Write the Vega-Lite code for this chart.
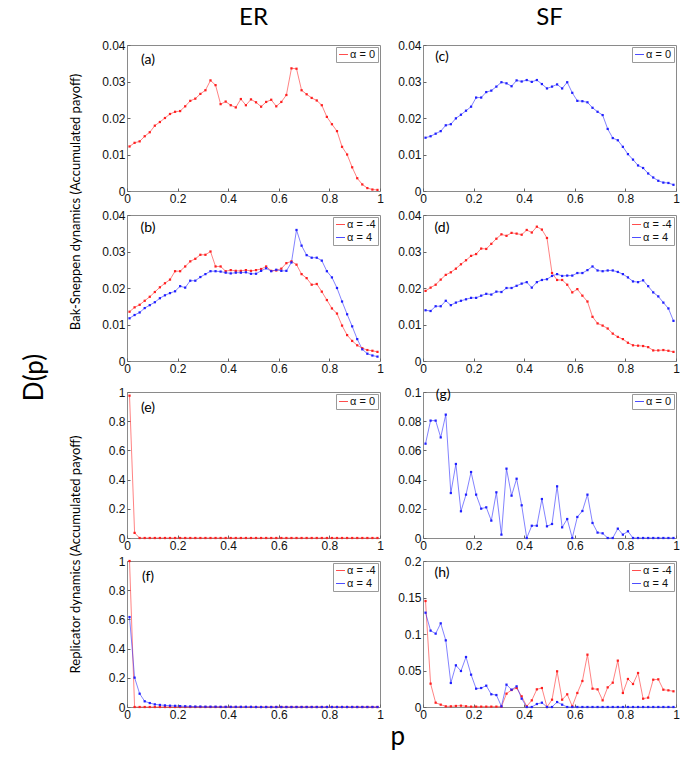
{
"$schema": "https://vega.github.io/schema/vega-lite/v6.json",
"background": "white",
"padding": {"left": 21, "top": 5, "right": 4, "bottom": 4},
"config": {
 "view": {"stroke": "#8a8a8a", "strokeWidth": 1},
 "axis": {"grid": false, "domain": false, "tickSize": -3, "tickColor": "#666", "tickCount": 12, "labelFont": "Liberation Sans", "labelFontSize": 12, "labelColor": "#111", "labelPadding": 5, "labelFlush": false, "labelOverlap": false, "labelBound": false},
 "axisY": {"minExtent": 27},
 "legend": {"orient": "top-right", "offset": 2, "padding": 2, "fillColor": "white", "strokeColor": "#9a9a9a", "labelFont": "Liberation Sans", "labelFontSize": 11, "labelColor": "#111", "symbolStrokeWidth": 0.8, "rowPadding": 1, "symbolSize": 80, "labelOffset": 1, "cornerRadius": 0},
 "title": {"font": "Lato", "fontWeight": "normal", "color": "#000", "anchor": "middle"},
 "text": {"font": "Lato"}
},
"datasets": {
"a": [{"p":0.01,"D":0.0122,"s":"α = 0"},{"p":0.03,"D":0.0132,"s":"α = 0"},{"p":0.05,"D":0.0136,"s":"α = 0"},{"p":0.07,"D":0.015,"s":"α = 0"},{"p":0.09,"D":0.0161,"s":"α = 0"},{"p":0.11,"D":0.0179,"s":"α = 0"},{"p":0.13,"D":0.0189,"s":"α = 0"},{"p":0.15,"D":0.02,"s":"α = 0"},{"p":0.17,"D":0.0211,"s":"α = 0"},{"p":0.19,"D":0.0217,"s":"α = 0"},{"p":0.21,"D":0.0219,"s":"α = 0"},{"p":0.23,"D":0.0232,"s":"α = 0"},{"p":0.25,"D":0.0247,"s":"α = 0"},{"p":0.27,"D":0.0253,"s":"α = 0"},{"p":0.29,"D":0.0266,"s":"α = 0"},{"p":0.31,"D":0.0276,"s":"α = 0"},{"p":0.33,"D":0.0303,"s":"α = 0"},{"p":0.35,"D":0.029,"s":"α = 0"},{"p":0.37,"D":0.0238,"s":"α = 0"},{"p":0.39,"D":0.0245,"s":"α = 0"},{"p":0.41,"D":0.0235,"s":"α = 0"},{"p":0.43,"D":0.0229,"s":"α = 0"},{"p":0.45,"D":0.0252,"s":"α = 0"},{"p":0.47,"D":0.0235,"s":"α = 0"},{"p":0.49,"D":0.0251,"s":"α = 0"},{"p":0.51,"D":0.0243,"s":"α = 0"},{"p":0.53,"D":0.0231,"s":"α = 0"},{"p":0.55,"D":0.0244,"s":"α = 0"},{"p":0.57,"D":0.025,"s":"α = 0"},{"p":0.59,"D":0.0232,"s":"α = 0"},{"p":0.61,"D":0.0244,"s":"α = 0"},{"p":0.63,"D":0.0263,"s":"α = 0"},{"p":0.65,"D":0.0336,"s":"α = 0"},{"p":0.67,"D":0.0335,"s":"α = 0"},{"p":0.69,"D":0.0276,"s":"α = 0"},{"p":0.71,"D":0.0265,"s":"α = 0"},{"p":0.73,"D":0.0255,"s":"α = 0"},{"p":0.75,"D":0.0248,"s":"α = 0"},{"p":0.77,"D":0.0235,"s":"α = 0"},{"p":0.79,"D":0.0203,"s":"α = 0"},{"p":0.81,"D":0.0183,"s":"α = 0"},{"p":0.83,"D":0.0164,"s":"α = 0"},{"p":0.85,"D":0.0121,"s":"α = 0"},{"p":0.87,"D":0.01,"s":"α = 0"},{"p":0.89,"D":0.0065,"s":"α = 0"},{"p":0.91,"D":0.0035,"s":"α = 0"},{"p":0.93,"D":0.0018,"s":"α = 0"},{"p":0.95,"D":0.0008,"s":"α = 0"},{"p":0.97,"D":0.0004,"s":"α = 0"},{"p":0.99,"D":0.0003,"s":"α = 0"}],
"c": [{"p":0.01,"D":0.0146,"s":"α = 0"},{"p":0.03,"D":0.015,"s":"α = 0"},{"p":0.05,"D":0.0157,"s":"α = 0"},{"p":0.07,"D":0.0164,"s":"α = 0"},{"p":0.09,"D":0.018,"s":"α = 0"},{"p":0.11,"D":0.0183,"s":"α = 0"},{"p":0.13,"D":0.0199,"s":"α = 0"},{"p":0.15,"D":0.0209,"s":"α = 0"},{"p":0.17,"D":0.022,"s":"α = 0"},{"p":0.19,"D":0.0231,"s":"α = 0"},{"p":0.21,"D":0.0256,"s":"α = 0"},{"p":0.23,"D":0.0256,"s":"α = 0"},{"p":0.25,"D":0.0271,"s":"α = 0"},{"p":0.27,"D":0.0275,"s":"α = 0"},{"p":0.29,"D":0.0286,"s":"α = 0"},{"p":0.31,"D":0.0298,"s":"α = 0"},{"p":0.33,"D":0.0295,"s":"α = 0"},{"p":0.35,"D":0.0287,"s":"α = 0"},{"p":0.37,"D":0.0303,"s":"α = 0"},{"p":0.39,"D":0.03,"s":"α = 0"},{"p":0.41,"D":0.0304,"s":"α = 0"},{"p":0.43,"D":0.0299,"s":"α = 0"},{"p":0.45,"D":0.0304,"s":"α = 0"},{"p":0.47,"D":0.0293,"s":"α = 0"},{"p":0.49,"D":0.0281,"s":"α = 0"},{"p":0.51,"D":0.0286,"s":"α = 0"},{"p":0.53,"D":0.0292,"s":"α = 0"},{"p":0.55,"D":0.0281,"s":"α = 0"},{"p":0.57,"D":0.0298,"s":"α = 0"},{"p":0.59,"D":0.0269,"s":"α = 0"},{"p":0.61,"D":0.0247,"s":"α = 0"},{"p":0.63,"D":0.0246,"s":"α = 0"},{"p":0.65,"D":0.0243,"s":"α = 0"},{"p":0.67,"D":0.0228,"s":"α = 0"},{"p":0.69,"D":0.0217,"s":"α = 0"},{"p":0.71,"D":0.0208,"s":"α = 0"},{"p":0.73,"D":0.017,"s":"α = 0"},{"p":0.75,"D":0.0145,"s":"α = 0"},{"p":0.77,"D":0.0139,"s":"α = 0"},{"p":0.79,"D":0.0121,"s":"α = 0"},{"p":0.81,"D":0.0101,"s":"α = 0"},{"p":0.83,"D":0.0086,"s":"α = 0"},{"p":0.85,"D":0.007,"s":"α = 0"},{"p":0.87,"D":0.0063,"s":"α = 0"},{"p":0.89,"D":0.0048,"s":"α = 0"},{"p":0.91,"D":0.0037,"s":"α = 0"},{"p":0.93,"D":0.0028,"s":"α = 0"},{"p":0.95,"D":0.0023,"s":"α = 0"},{"p":0.97,"D":0.0022,"s":"α = 0"},{"p":0.99,"D":0.0017,"s":"α = 0"}],
"b": [{"p":0.01,"D":0.0135,"s":"α = -4"},{"p":0.03,"D":0.0147,"s":"α = -4"},{"p":0.05,"D":0.0154,"s":"α = -4"},{"p":0.07,"D":0.0165,"s":"α = -4"},{"p":0.09,"D":0.0176,"s":"α = -4"},{"p":0.11,"D":0.0189,"s":"α = -4"},{"p":0.13,"D":0.0202,"s":"α = -4"},{"p":0.15,"D":0.0213,"s":"α = -4"},{"p":0.17,"D":0.0223,"s":"α = -4"},{"p":0.19,"D":0.0246,"s":"α = -4"},{"p":0.21,"D":0.0246,"s":"α = -4"},{"p":0.23,"D":0.0259,"s":"α = -4"},{"p":0.25,"D":0.0273,"s":"α = -4"},{"p":0.27,"D":0.028,"s":"α = -4"},{"p":0.29,"D":0.0291,"s":"α = -4"},{"p":0.31,"D":0.0291,"s":"α = -4"},{"p":0.33,"D":0.03,"s":"α = -4"},{"p":0.35,"D":0.0259,"s":"α = -4"},{"p":0.37,"D":0.0259,"s":"α = -4"},{"p":0.39,"D":0.0246,"s":"α = -4"},{"p":0.41,"D":0.0249,"s":"α = -4"},{"p":0.43,"D":0.0247,"s":"α = -4"},{"p":0.45,"D":0.0247,"s":"α = -4"},{"p":0.47,"D":0.0249,"s":"α = -4"},{"p":0.49,"D":0.0247,"s":"α = -4"},{"p":0.51,"D":0.0249,"s":"α = -4"},{"p":0.53,"D":0.0252,"s":"α = -4"},{"p":0.55,"D":0.0259,"s":"α = -4"},{"p":0.57,"D":0.0247,"s":"α = -4"},{"p":0.59,"D":0.0248,"s":"α = -4"},{"p":0.61,"D":0.0253,"s":"α = -4"},{"p":0.63,"D":0.0268,"s":"α = -4"},{"p":0.65,"D":0.0273,"s":"α = -4"},{"p":0.67,"D":0.0264,"s":"α = -4"},{"p":0.69,"D":0.0238,"s":"α = -4"},{"p":0.71,"D":0.0227,"s":"α = -4"},{"p":0.73,"D":0.0209,"s":"α = -4"},{"p":0.75,"D":0.0211,"s":"α = -4"},{"p":0.77,"D":0.019,"s":"α = -4"},{"p":0.79,"D":0.0167,"s":"α = -4"},{"p":0.81,"D":0.0144,"s":"α = -4"},{"p":0.83,"D":0.013,"s":"α = -4"},{"p":0.85,"D":0.0097,"s":"α = -4"},{"p":0.87,"D":0.0071,"s":"α = -4"},{"p":0.89,"D":0.0055,"s":"α = -4"},{"p":0.91,"D":0.0043,"s":"α = -4"},{"p":0.93,"D":0.0035,"s":"α = -4"},{"p":0.95,"D":0.003,"s":"α = -4"},{"p":0.97,"D":0.0028,"s":"α = -4"},{"p":0.99,"D":0.0025,"s":"α = -4"},
{"p":0.01,"D":0.0117,"s":"α = 4"},{"p":0.03,"D":0.0126,"s":"α = 4"},{"p":0.05,"D":0.0133,"s":"α = 4"},{"p":0.07,"D":0.0145,"s":"α = 4"},{"p":0.09,"D":0.0153,"s":"α = 4"},{"p":0.11,"D":0.0161,"s":"α = 4"},{"p":0.13,"D":0.0172,"s":"α = 4"},{"p":0.15,"D":0.018,"s":"α = 4"},{"p":0.17,"D":0.0186,"s":"α = 4"},{"p":0.19,"D":0.0191,"s":"α = 4"},{"p":0.21,"D":0.0205,"s":"α = 4"},{"p":0.23,"D":0.0201,"s":"α = 4"},{"p":0.25,"D":0.022,"s":"α = 4"},{"p":0.27,"D":0.022,"s":"α = 4"},{"p":0.29,"D":0.023,"s":"α = 4"},{"p":0.31,"D":0.0238,"s":"α = 4"},{"p":0.33,"D":0.0246,"s":"α = 4"},{"p":0.35,"D":0.0246,"s":"α = 4"},{"p":0.37,"D":0.0245,"s":"α = 4"},{"p":0.39,"D":0.0242,"s":"α = 4"},{"p":0.41,"D":0.024,"s":"α = 4"},{"p":0.43,"D":0.0242,"s":"α = 4"},{"p":0.45,"D":0.0242,"s":"α = 4"},{"p":0.47,"D":0.0243,"s":"α = 4"},{"p":0.49,"D":0.0239,"s":"α = 4"},{"p":0.51,"D":0.0239,"s":"α = 4"},{"p":0.53,"D":0.0247,"s":"α = 4"},{"p":0.55,"D":0.0254,"s":"α = 4"},{"p":0.57,"D":0.0246,"s":"α = 4"},{"p":0.59,"D":0.025,"s":"α = 4"},{"p":0.61,"D":0.0247,"s":"α = 4"},{"p":0.63,"D":0.0247,"s":"α = 4"},{"p":0.65,"D":0.027,"s":"α = 4"},{"p":0.67,"D":0.0359,"s":"α = 4"},{"p":0.69,"D":0.0316,"s":"α = 4"},{"p":0.71,"D":0.029,"s":"α = 4"},{"p":0.73,"D":0.0283,"s":"α = 4"},{"p":0.75,"D":0.0283,"s":"α = 4"},{"p":0.77,"D":0.0275,"s":"α = 4"},{"p":0.79,"D":0.0246,"s":"α = 4"},{"p":0.81,"D":0.0229,"s":"α = 4"},{"p":0.83,"D":0.02,"s":"α = 4"},{"p":0.85,"D":0.0163,"s":"α = 4"},{"p":0.87,"D":0.0128,"s":"α = 4"},{"p":0.89,"D":0.0095,"s":"α = 4"},{"p":0.91,"D":0.006,"s":"α = 4"},{"p":0.93,"D":0.0032,"s":"α = 4"},{"p":0.95,"D":0.002,"s":"α = 4"},{"p":0.97,"D":0.0015,"s":"α = 4"},{"p":0.99,"D":0.0012,"s":"α = 4"}],
"d": [{"p":0.01,"D":0.0192,"s":"α = -4"},{"p":0.03,"D":0.0201,"s":"α = -4"},{"p":0.05,"D":0.0209,"s":"α = -4"},{"p":0.07,"D":0.0223,"s":"α = -4"},{"p":0.09,"D":0.0236,"s":"α = -4"},{"p":0.11,"D":0.0243,"s":"α = -4"},{"p":0.13,"D":0.0253,"s":"α = -4"},{"p":0.15,"D":0.0265,"s":"α = -4"},{"p":0.17,"D":0.0276,"s":"α = -4"},{"p":0.19,"D":0.0288,"s":"α = -4"},{"p":0.21,"D":0.0293,"s":"α = -4"},{"p":0.23,"D":0.0308,"s":"α = -4"},{"p":0.25,"D":0.0307,"s":"α = -4"},{"p":0.27,"D":0.0321,"s":"α = -4"},{"p":0.29,"D":0.0335,"s":"α = -4"},{"p":0.31,"D":0.0347,"s":"α = -4"},{"p":0.33,"D":0.0343,"s":"α = -4"},{"p":0.35,"D":0.0351,"s":"α = -4"},{"p":0.37,"D":0.0349,"s":"α = -4"},{"p":0.39,"D":0.0346,"s":"α = -4"},{"p":0.41,"D":0.0359,"s":"α = -4"},{"p":0.43,"D":0.0352,"s":"α = -4"},{"p":0.45,"D":0.0368,"s":"α = -4"},{"p":0.47,"D":0.036,"s":"α = -4"},{"p":0.49,"D":0.0337,"s":"α = -4"},{"p":0.51,"D":0.0241,"s":"α = -4"},{"p":0.53,"D":0.0222,"s":"α = -4"},{"p":0.55,"D":0.0222,"s":"α = -4"},{"p":0.57,"D":0.0209,"s":"α = -4"},{"p":0.59,"D":0.0188,"s":"α = -4"},{"p":0.61,"D":0.0197,"s":"α = -4"},{"p":0.63,"D":0.0179,"s":"α = -4"},{"p":0.65,"D":0.0163,"s":"α = -4"},{"p":0.67,"D":0.0121,"s":"α = -4"},{"p":0.69,"D":0.0103,"s":"α = -4"},{"p":0.71,"D":0.0097,"s":"α = -4"},{"p":0.73,"D":0.0089,"s":"α = -4"},{"p":0.75,"D":0.0075,"s":"α = -4"},{"p":0.77,"D":0.0066,"s":"α = -4"},{"p":0.79,"D":0.006,"s":"α = -4"},{"p":0.81,"D":0.005,"s":"α = -4"},{"p":0.83,"D":0.0043,"s":"α = -4"},{"p":0.85,"D":0.0042,"s":"α = -4"},{"p":0.87,"D":0.0041,"s":"α = -4"},{"p":0.89,"D":0.0038,"s":"α = -4"},{"p":0.91,"D":0.0029,"s":"α = -4"},{"p":0.93,"D":0.0029,"s":"α = -4"},{"p":0.95,"D":0.003,"s":"α = -4"},{"p":0.97,"D":0.0028,"s":"α = -4"},{"p":0.99,"D":0.0025,"s":"α = -4"},
{"p":0.01,"D":0.0139,"s":"α = 4"},{"p":0.03,"D":0.0137,"s":"α = 4"},{"p":0.05,"D":0.015,"s":"α = 4"},{"p":0.07,"D":0.015,"s":"α = 4"},{"p":0.09,"D":0.0165,"s":"α = 4"},{"p":0.11,"D":0.0153,"s":"α = 4"},{"p":0.13,"D":0.016,"s":"α = 4"},{"p":0.15,"D":0.0165,"s":"α = 4"},{"p":0.17,"D":0.0169,"s":"α = 4"},{"p":0.19,"D":0.0173,"s":"α = 4"},{"p":0.21,"D":0.0173,"s":"α = 4"},{"p":0.23,"D":0.0179,"s":"α = 4"},{"p":0.25,"D":0.0184,"s":"α = 4"},{"p":0.27,"D":0.0182,"s":"α = 4"},{"p":0.29,"D":0.019,"s":"α = 4"},{"p":0.31,"D":0.0189,"s":"α = 4"},{"p":0.33,"D":0.02,"s":"α = 4"},{"p":0.35,"D":0.02,"s":"α = 4"},{"p":0.37,"D":0.0206,"s":"α = 4"},{"p":0.39,"D":0.0212,"s":"α = 4"},{"p":0.41,"D":0.0216,"s":"α = 4"},{"p":0.43,"D":0.0201,"s":"α = 4"},{"p":0.45,"D":0.0216,"s":"α = 4"},{"p":0.47,"D":0.0222,"s":"α = 4"},{"p":0.49,"D":0.0224,"s":"α = 4"},{"p":0.51,"D":0.0233,"s":"α = 4"},{"p":0.53,"D":0.0238,"s":"α = 4"},{"p":0.55,"D":0.0233,"s":"α = 4"},{"p":0.57,"D":0.0234,"s":"α = 4"},{"p":0.59,"D":0.0234,"s":"α = 4"},{"p":0.61,"D":0.0241,"s":"α = 4"},{"p":0.63,"D":0.0241,"s":"α = 4"},{"p":0.65,"D":0.0249,"s":"α = 4"},{"p":0.67,"D":0.0259,"s":"α = 4"},{"p":0.69,"D":0.0248,"s":"α = 4"},{"p":0.71,"D":0.0246,"s":"α = 4"},{"p":0.73,"D":0.0248,"s":"α = 4"},{"p":0.75,"D":0.0248,"s":"α = 4"},{"p":0.77,"D":0.0244,"s":"α = 4"},{"p":0.79,"D":0.0238,"s":"α = 4"},{"p":0.81,"D":0.0229,"s":"α = 4"},{"p":0.83,"D":0.0218,"s":"α = 4"},{"p":0.85,"D":0.0216,"s":"α = 4"},{"p":0.87,"D":0.0221,"s":"α = 4"},{"p":0.89,"D":0.0205,"s":"α = 4"},{"p":0.91,"D":0.0188,"s":"α = 4"},{"p":0.93,"D":0.0177,"s":"α = 4"},{"p":0.95,"D":0.016,"s":"α = 4"},{"p":0.97,"D":0.0144,"s":"α = 4"},{"p":0.99,"D":0.011,"s":"α = 4"}],
"e": [{"p":0.01,"D":0.975,"s":"α = 0"},{"p":0.03,"D":0.035,"s":"α = 0"},{"p":0.05,"D":0,"s":"α = 0"},{"p":0.07,"D":0,"s":"α = 0"},{"p":0.09,"D":0,"s":"α = 0"},{"p":0.11,"D":0,"s":"α = 0"},{"p":0.13,"D":0,"s":"α = 0"},{"p":0.15,"D":0,"s":"α = 0"},{"p":0.17,"D":0,"s":"α = 0"},{"p":0.19,"D":0,"s":"α = 0"},{"p":0.21,"D":0,"s":"α = 0"},{"p":0.23,"D":0,"s":"α = 0"},{"p":0.25,"D":0,"s":"α = 0"},{"p":0.27,"D":0,"s":"α = 0"},{"p":0.29,"D":0,"s":"α = 0"},{"p":0.31,"D":0,"s":"α = 0"},{"p":0.33,"D":0,"s":"α = 0"},{"p":0.35,"D":0,"s":"α = 0"},{"p":0.37,"D":0,"s":"α = 0"},{"p":0.39,"D":0,"s":"α = 0"},{"p":0.41,"D":0,"s":"α = 0"},{"p":0.43,"D":0,"s":"α = 0"},{"p":0.45,"D":0,"s":"α = 0"},{"p":0.47,"D":0,"s":"α = 0"},{"p":0.49,"D":0,"s":"α = 0"},{"p":0.51,"D":0,"s":"α = 0"},{"p":0.53,"D":0,"s":"α = 0"},{"p":0.55,"D":0,"s":"α = 0"},{"p":0.57,"D":0,"s":"α = 0"},{"p":0.59,"D":0,"s":"α = 0"},{"p":0.61,"D":0,"s":"α = 0"},{"p":0.63,"D":0,"s":"α = 0"},{"p":0.65,"D":0,"s":"α = 0"},{"p":0.67,"D":0,"s":"α = 0"},{"p":0.69,"D":0,"s":"α = 0"},{"p":0.71,"D":0,"s":"α = 0"},{"p":0.73,"D":0,"s":"α = 0"},{"p":0.75,"D":0,"s":"α = 0"},{"p":0.77,"D":0,"s":"α = 0"},{"p":0.79,"D":0,"s":"α = 0"},{"p":0.81,"D":0,"s":"α = 0"},{"p":0.83,"D":0,"s":"α = 0"},{"p":0.85,"D":0,"s":"α = 0"},{"p":0.87,"D":0,"s":"α = 0"},{"p":0.89,"D":0,"s":"α = 0"},{"p":0.91,"D":0,"s":"α = 0"},{"p":0.93,"D":0,"s":"α = 0"},{"p":0.95,"D":0,"s":"α = 0"},{"p":0.97,"D":0,"s":"α = 0"},{"p":0.99,"D":0,"s":"α = 0"}],
"f": [{"p":0.01,"D":1,"s":"α = -4"},{"p":0.03,"D":0,"s":"α = -4"},{"p":0.05,"D":0,"s":"α = -4"},{"p":0.07,"D":0,"s":"α = -4"},{"p":0.09,"D":0,"s":"α = -4"},{"p":0.11,"D":0,"s":"α = -4"},{"p":0.13,"D":0,"s":"α = -4"},{"p":0.15,"D":0,"s":"α = -4"},{"p":0.17,"D":0,"s":"α = -4"},{"p":0.19,"D":0,"s":"α = -4"},{"p":0.21,"D":0,"s":"α = -4"},{"p":0.23,"D":0,"s":"α = -4"},{"p":0.25,"D":0,"s":"α = -4"},{"p":0.27,"D":0,"s":"α = -4"},{"p":0.29,"D":0,"s":"α = -4"},{"p":0.31,"D":0,"s":"α = -4"},{"p":0.33,"D":0,"s":"α = -4"},{"p":0.35,"D":0,"s":"α = -4"},{"p":0.37,"D":0,"s":"α = -4"},{"p":0.39,"D":0,"s":"α = -4"},{"p":0.41,"D":0,"s":"α = -4"},{"p":0.43,"D":0,"s":"α = -4"},{"p":0.45,"D":0,"s":"α = -4"},{"p":0.47,"D":0,"s":"α = -4"},{"p":0.49,"D":0,"s":"α = -4"},{"p":0.51,"D":0,"s":"α = -4"},{"p":0.53,"D":0,"s":"α = -4"},{"p":0.55,"D":0,"s":"α = -4"},{"p":0.57,"D":0,"s":"α = -4"},{"p":0.59,"D":0,"s":"α = -4"},{"p":0.61,"D":0,"s":"α = -4"},{"p":0.63,"D":0,"s":"α = -4"},{"p":0.65,"D":0,"s":"α = -4"},{"p":0.67,"D":0,"s":"α = -4"},{"p":0.69,"D":0,"s":"α = -4"},{"p":0.71,"D":0,"s":"α = -4"},{"p":0.73,"D":0,"s":"α = -4"},{"p":0.75,"D":0,"s":"α = -4"},{"p":0.77,"D":0,"s":"α = -4"},{"p":0.79,"D":0,"s":"α = -4"},{"p":0.81,"D":0,"s":"α = -4"},{"p":0.83,"D":0,"s":"α = -4"},{"p":0.85,"D":0,"s":"α = -4"},{"p":0.87,"D":0,"s":"α = -4"},{"p":0.89,"D":0,"s":"α = -4"},{"p":0.91,"D":0,"s":"α = -4"},{"p":0.93,"D":0,"s":"α = -4"},{"p":0.95,"D":0,"s":"α = -4"},{"p":0.97,"D":0,"s":"α = -4"},{"p":0.99,"D":0,"s":"α = -4"},
{"p":0.01,"D":0.616,"s":"α = 4"},{"p":0.03,"D":0.201,"s":"α = 4"},{"p":0.05,"D":0.091,"s":"α = 4"},{"p":0.07,"D":0.039,"s":"α = 4"},{"p":0.09,"D":0.027,"s":"α = 4"},{"p":0.11,"D":0.018,"s":"α = 4"},{"p":0.13,"D":0.014,"s":"α = 4"},{"p":0.15,"D":0.011,"s":"α = 4"},{"p":0.17,"D":0.009,"s":"α = 4"},{"p":0.19,"D":0.008,"s":"α = 4"},{"p":0.21,"D":0.006,"s":"α = 4"},{"p":0.23,"D":0.005,"s":"α = 4"},{"p":0.25,"D":0.004,"s":"α = 4"},{"p":0.27,"D":0.003,"s":"α = 4"},{"p":0.29,"D":0.003,"s":"α = 4"},{"p":0.31,"D":0.002,"s":"α = 4"},{"p":0.33,"D":0.002,"s":"α = 4"},{"p":0.35,"D":0.002,"s":"α = 4"},{"p":0.37,"D":0.001,"s":"α = 4"},{"p":0.39,"D":0.001,"s":"α = 4"},{"p":0.41,"D":0.001,"s":"α = 4"},{"p":0.43,"D":0.001,"s":"α = 4"},{"p":0.45,"D":0.001,"s":"α = 4"},{"p":0.47,"D":0.001,"s":"α = 4"},{"p":0.49,"D":0.001,"s":"α = 4"},{"p":0.51,"D":0,"s":"α = 4"},{"p":0.53,"D":0,"s":"α = 4"},{"p":0.55,"D":0,"s":"α = 4"},{"p":0.57,"D":0,"s":"α = 4"},{"p":0.59,"D":0,"s":"α = 4"},{"p":0.61,"D":0,"s":"α = 4"},{"p":0.63,"D":0,"s":"α = 4"},{"p":0.65,"D":0,"s":"α = 4"},{"p":0.67,"D":0,"s":"α = 4"},{"p":0.69,"D":0,"s":"α = 4"},{"p":0.71,"D":0,"s":"α = 4"},{"p":0.73,"D":0,"s":"α = 4"},{"p":0.75,"D":0,"s":"α = 4"},{"p":0.77,"D":0,"s":"α = 4"},{"p":0.79,"D":0,"s":"α = 4"},{"p":0.81,"D":0,"s":"α = 4"},{"p":0.83,"D":0,"s":"α = 4"},{"p":0.85,"D":0,"s":"α = 4"},{"p":0.87,"D":0,"s":"α = 4"},{"p":0.89,"D":0,"s":"α = 4"},{"p":0.91,"D":0,"s":"α = 4"},{"p":0.93,"D":0,"s":"α = 4"},{"p":0.95,"D":0,"s":"α = 4"},{"p":0.97,"D":0,"s":"α = 4"},{"p":0.99,"D":0,"s":"α = 4"}],
"g": [{"p":0.01,"D":0.0646,"s":"α = 0"},{"p":0.03,"D":0.0804,"s":"α = 0"},{"p":0.05,"D":0.0804,"s":"α = 0"},{"p":0.07,"D":0.0689,"s":"α = 0"},{"p":0.09,"D":0.0845,"s":"α = 0"},{"p":0.11,"D":0.0308,"s":"α = 0"},{"p":0.13,"D":0.0507,"s":"α = 0"},{"p":0.15,"D":0.0183,"s":"α = 0"},{"p":0.17,"D":0.0297,"s":"α = 0"},{"p":0.19,"D":0.0452,"s":"α = 0"},{"p":0.21,"D":0.0297,"s":"α = 0"},{"p":0.23,"D":0.0201,"s":"α = 0"},{"p":0.25,"D":0.021,"s":"α = 0"},{"p":0.27,"D":0.0119,"s":"α = 0"},{"p":0.29,"D":0.0313,"s":"α = 0"},{"p":0.31,"D":0.0023,"s":"α = 0"},{"p":0.33,"D":0.0475,"s":"α = 0"},{"p":0.35,"D":0.029,"s":"α = 0"},{"p":0.37,"D":0.0406,"s":"α = 0"},{"p":0.39,"D":0.0224,"s":"α = 0"},{"p":0.41,"D":0,"s":"α = 0"},{"p":0.43,"D":0.0084,"s":"α = 0"},{"p":0.45,"D":0.0084,"s":"α = 0"},{"p":0.47,"D":0.0267,"s":"α = 0"},{"p":0.49,"D":0.008,"s":"α = 0"},{"p":0.51,"D":0.0096,"s":"α = 0"},{"p":0.53,"D":0.0354,"s":"α = 0"},{"p":0.55,"D":0.0073,"s":"α = 0"},{"p":0.57,"D":0.013,"s":"α = 0"},{"p":0.59,"D":0,"s":"α = 0"},{"p":0.61,"D":0.0144,"s":"α = 0"},{"p":0.63,"D":0.0185,"s":"α = 0"},{"p":0.65,"D":0.0297,"s":"α = 0"},{"p":0.67,"D":0.0103,"s":"α = 0"},{"p":0.69,"D":0.0037,"s":"α = 0"},{"p":0.71,"D":0.0032,"s":"α = 0"},{"p":0.73,"D":0,"s":"α = 0"},{"p":0.75,"D":0,"s":"α = 0"},{"p":0.77,"D":0.0064,"s":"α = 0"},{"p":0.79,"D":0.0023,"s":"α = 0"},{"p":0.81,"D":0.0046,"s":"α = 0"},{"p":0.83,"D":0,"s":"α = 0"},{"p":0.85,"D":0,"s":"α = 0"},{"p":0.87,"D":0,"s":"α = 0"},{"p":0.89,"D":0,"s":"α = 0"},{"p":0.91,"D":0,"s":"α = 0"},{"p":0.93,"D":0,"s":"α = 0"},{"p":0.95,"D":0,"s":"α = 0"},{"p":0.97,"D":0,"s":"α = 0"},{"p":0.99,"D":0,"s":"α = 0"}],
"h": [{"p":0.01,"D":0.1452,"s":"α = -4"},{"p":0.03,"D":0.032,"s":"α = -4"},{"p":0.05,"D":0.0059,"s":"α = -4"},{"p":0.07,"D":0.0032,"s":"α = -4"},{"p":0.09,"D":0.0009,"s":"α = -4"},{"p":0.11,"D":0.0009,"s":"α = -4"},{"p":0.13,"D":0.0014,"s":"α = -4"},{"p":0.15,"D":0.0018,"s":"α = -4"},{"p":0.17,"D":0.001,"s":"α = -4"},{"p":0.19,"D":0.0005,"s":"α = -4"},{"p":0.21,"D":0.0005,"s":"α = -4"},{"p":0.23,"D":0.0005,"s":"α = -4"},{"p":0.25,"D":0.0005,"s":"α = -4"},{"p":0.27,"D":0.0005,"s":"α = -4"},{"p":0.29,"D":0.0005,"s":"α = -4"},{"p":0.31,"D":0.0005,"s":"α = -4"},{"p":0.33,"D":0.0183,"s":"α = -4"},{"p":0.35,"D":0.0233,"s":"α = -4"},{"p":0.37,"D":0.026,"s":"α = -4"},{"p":0.39,"D":0.0146,"s":"α = -4"},{"p":0.41,"D":0.0009,"s":"α = -4"},{"p":0.43,"D":0.0091,"s":"α = -4"},{"p":0.45,"D":0.0242,"s":"α = -4"},{"p":0.47,"D":0.026,"s":"α = -4"},{"p":0.49,"D":0,"s":"α = -4"},{"p":0.51,"D":0.01,"s":"α = -4"},{"p":0.53,"D":0.0489,"s":"α = -4"},{"p":0.55,"D":0.01,"s":"α = -4"},{"p":0.57,"D":0.0174,"s":"α = -4"},{"p":0.59,"D":0.0009,"s":"α = -4"},{"p":0.61,"D":0.0192,"s":"α = -4"},{"p":0.63,"D":0.0356,"s":"α = -4"},{"p":0.65,"D":0.0717,"s":"α = -4"},{"p":0.67,"D":0.0251,"s":"α = -4"},{"p":0.69,"D":0.0242,"s":"α = -4"},{"p":0.71,"D":0.0091,"s":"α = -4"},{"p":0.73,"D":0.0269,"s":"α = -4"},{"p":0.75,"D":0.0333,"s":"α = -4"},{"p":0.77,"D":0.0635,"s":"α = -4"},{"p":0.79,"D":0.0192,"s":"α = -4"},{"p":0.81,"D":0.0384,"s":"α = -4"},{"p":0.83,"D":0.0315,"s":"α = -4"},{"p":0.85,"D":0.0466,"s":"α = -4"},{"p":0.87,"D":0.0114,"s":"α = -4"},{"p":0.89,"D":0.0128,"s":"α = -4"},{"p":0.91,"D":0.0374,"s":"α = -4"},{"p":0.93,"D":0.0379,"s":"α = -4"},{"p":0.95,"D":0.0237,"s":"α = -4"},{"p":0.97,"D":0.0228,"s":"α = -4"},{"p":0.99,"D":0.0215,"s":"α = -4"},
{"p":0.01,"D":0.1292,"s":"α = 4"},{"p":0.03,"D":0.1046,"s":"α = 4"},{"p":0.05,"D":0.1005,"s":"α = 4"},{"p":0.07,"D":0.1146,"s":"α = 4"},{"p":0.09,"D":0.0913,"s":"α = 4"},{"p":0.11,"D":0.0329,"s":"α = 4"},{"p":0.13,"D":0.0571,"s":"α = 4"},{"p":0.15,"D":0.0493,"s":"α = 4"},{"p":0.17,"D":0.0685,"s":"α = 4"},{"p":0.19,"D":0.0443,"s":"α = 4"},{"p":0.21,"D":0.0251,"s":"α = 4"},{"p":0.23,"D":0.026,"s":"α = 4"},{"p":0.25,"D":0.0292,"s":"α = 4"},{"p":0.27,"D":0.0174,"s":"α = 4"},{"p":0.29,"D":0.0164,"s":"α = 4"},{"p":0.31,"D":0.0009,"s":"α = 4"},{"p":0.33,"D":0.0306,"s":"α = 4"},{"p":0.35,"D":0.0237,"s":"α = 4"},{"p":0.37,"D":0.0283,"s":"α = 4"},{"p":0.39,"D":0.0114,"s":"α = 4"},{"p":0.41,"D":0,"s":"α = 4"},{"p":0.43,"D":0,"s":"α = 4"},{"p":0.45,"D":0.0041,"s":"α = 4"},{"p":0.47,"D":0.0059,"s":"α = 4"},{"p":0.49,"D":0,"s":"α = 4"},{"p":0.51,"D":0,"s":"α = 4"},{"p":0.53,"D":0.0068,"s":"α = 4"},{"p":0.55,"D":0.0032,"s":"α = 4"},{"p":0.57,"D":0,"s":"α = 4"},{"p":0.59,"D":0,"s":"α = 4"},{"p":0.61,"D":0,"s":"α = 4"},{"p":0.63,"D":0,"s":"α = 4"},{"p":0.65,"D":0,"s":"α = 4"},{"p":0.67,"D":0,"s":"α = 4"},{"p":0.69,"D":0,"s":"α = 4"},{"p":0.71,"D":0,"s":"α = 4"},{"p":0.73,"D":0,"s":"α = 4"},{"p":0.75,"D":0,"s":"α = 4"},{"p":0.77,"D":0,"s":"α = 4"},{"p":0.79,"D":0,"s":"α = 4"},{"p":0.81,"D":0,"s":"α = 4"},{"p":0.83,"D":0,"s":"α = 4"},{"p":0.85,"D":0,"s":"α = 4"},{"p":0.87,"D":0,"s":"α = 4"},{"p":0.89,"D":0,"s":"α = 4"},{"p":0.91,"D":0,"s":"α = 4"},{"p":0.93,"D":0,"s":"α = 4"},{"p":0.95,"D":0,"s":"α = 4"},{"p":0.97,"D":0,"s":"α = 4"},{"p":0.99,"D":0,"s":"α = 4"}]
},
"title": {"text": "D(p)", "orient": "left", "fontSize": 26, "anchor": "middle", "offset": 22},
"spacing": 10,
"resolve": {"scale": {"color": "independent"}, "legend": {"color": "independent"}},
"vconcat": [
{
 "title": {"text": "Bak-Sneppen dynamics (Accumulated payoff)", "orient": "left", "fontSize": 13, "anchor": "middle", "offset": 17, "dx": -12},
 "spacing": 3,
 "resolve": {"scale": {"color": "independent"}, "legend": {"color": "independent"}},
 "vconcat": [
  {"hconcat": [
   {"width": 253, "height": 146, "title": {"text": "ER", "fontSize": 24, "offset": 9}, "data": {"name": "a"},
    "layer": [
     {"mark": {"type": "line", "strokeWidth": 0.8, "strokeOpacity": 0.7, "point": {"filled": true, "size": 5, "shape": "square", "opacity": 1}},
      "encoding": {"x": {"field": "p", "type": "quantitative", "scale": {"domain": [0, 1], "nice": false}, "axis": {"values": [0, 0.2, 0.4, 0.6, 0.8, 1], "format": "~g", "title": null, "tickCount": 12}},
       "y": {"field": "D", "type": "quantitative", "scale": {"domain": [0, 0.04], "nice": false}, "axis": {"values": [0, 0.01, 0.02, 0.03, 0.04], "format": "~g", "title": null, "tickCount": 12}},
       "color": {"field": "s", "type": "nominal", "scale": {"domain": ["α = 0"], "range": ["#ff2020"]}, "legend": {"title": null}}}},
     {"data": {"values": [{}]}, "mark": {"type": "text", "fontSize": 14}, "encoding": {"x": {"datum": 0.083}, "y": {"datum": 0.036}, "text": {"value": "(a)"}}}
    ]},
   {"width": 253, "height": 146, "title": {"text": "SF", "fontSize": 24, "offset": 9}, "data": {"name": "c"},
    "layer": [
     {"mark": {"type": "line", "strokeWidth": 0.8, "strokeOpacity": 0.7, "point": {"filled": true, "size": 5, "shape": "square", "opacity": 1}},
      "encoding": {"x": {"field": "p", "type": "quantitative", "scale": {"domain": [0, 1], "nice": false}, "axis": {"values": [0, 0.2, 0.4, 0.6, 0.8, 1], "format": "~g", "title": null, "tickCount": 12}},
       "y": {"field": "D", "type": "quantitative", "scale": {"domain": [0, 0.04], "nice": false}, "axis": {"values": [0, 0.01, 0.02, 0.03, 0.04], "format": "~g", "title": null, "tickCount": 12}},
       "color": {"field": "s", "type": "nominal", "scale": {"domain": ["α = 0"], "range": ["#2020ff"]}, "legend": {"title": null}}}},
     {"data": {"values": [{}]}, "mark": {"type": "text", "fontSize": 14}, "encoding": {"x": {"datum": 0.075}, "y": {"datum": 0.0368}, "text": {"value": "(c)"}}}
    ]}
  ], "spacing": 11, "resolve": {"scale": {"color": "independent"}, "legend": {"color": "independent"}}},
  {"hconcat": [
   {"width": 253, "height": 146, "data": {"name": "b"},
    "layer": [
     {"mark": {"type": "line", "strokeWidth": 0.8, "strokeOpacity": 0.7, "point": {"filled": true, "size": 5, "shape": "square", "opacity": 1}},
      "encoding": {"x": {"field": "p", "type": "quantitative", "scale": {"domain": [0, 1], "nice": false}, "axis": {"values": [0, 0.2, 0.4, 0.6, 0.8, 1], "format": "~g", "title": null, "tickCount": 12}},
       "y": {"field": "D", "type": "quantitative", "scale": {"domain": [0, 0.04], "nice": false}, "axis": {"values": [0, 0.01, 0.02, 0.03, 0.04], "format": "~g", "title": null, "tickCount": 12}},
       "color": {"field": "s", "type": "nominal", "scale": {"domain": ["α = -4", "α = 4"], "range": ["#ff2020", "#2020ff"]}, "legend": {"title": null}}}},
     {"data": {"values": [{}]}, "mark": {"type": "text", "fontSize": 14}, "encoding": {"x": {"datum": 0.083}, "y": {"datum": 0.0364}, "text": {"value": "(b)"}}}
    ]},
   {"width": 253, "height": 146, "data": {"name": "d"},
    "layer": [
     {"mark": {"type": "line", "strokeWidth": 0.8, "strokeOpacity": 0.7, "point": {"filled": true, "size": 5, "shape": "square", "opacity": 1}},
      "encoding": {"x": {"field": "p", "type": "quantitative", "scale": {"domain": [0, 1], "nice": false}, "axis": {"values": [0, 0.2, 0.4, 0.6, 0.8, 1], "format": "~g", "title": null, "tickCount": 12}},
       "y": {"field": "D", "type": "quantitative", "scale": {"domain": [0, 0.04], "nice": false}, "axis": {"values": [0, 0.01, 0.02, 0.03, 0.04], "format": "~g", "title": null, "tickCount": 12}},
       "color": {"field": "s", "type": "nominal", "scale": {"domain": ["α = -4", "α = 4"], "range": ["#ff2020", "#2020ff"]}, "legend": {"title": null}}}},
     {"data": {"values": [{}]}, "mark": {"type": "text", "fontSize": 14}, "encoding": {"x": {"datum": 0.075}, "y": {"datum": 0.0364}, "text": {"value": "(d)"}}}
    ]}
  ], "spacing": 11, "resolve": {"scale": {"color": "independent"}, "legend": {"color": "independent"}}}
 ]
},
{
 "title": {"text": "Replicator dynamics (Accumulated payoff)", "orient": "left", "fontSize": 13, "anchor": "middle", "offset": 17, "dx": 13},
 "spacing": 2,
 "resolve": {"scale": {"color": "independent"}, "legend": {"color": "independent"}},
 "vconcat": [
  {"hconcat": [
   {"width": 253, "height": 146, "data": {"name": "e"},
    "layer": [
     {"mark": {"type": "line", "strokeWidth": 0.8, "strokeOpacity": 0.7, "point": {"filled": true, "size": 5, "shape": "square", "opacity": 1}},
      "encoding": {"x": {"field": "p", "type": "quantitative", "scale": {"domain": [0, 1], "nice": false}, "axis": {"values": [0, 0.2, 0.4, 0.6, 0.8, 1], "format": "~g", "title": null, "tickCount": 12}},
       "y": {"field": "D", "type": "quantitative", "scale": {"domain": [0, 1], "nice": false}, "axis": {"values": [0, 0.2, 0.4, 0.6, 0.8, 1], "format": "~g", "title": null, "tickCount": 12}},
       "color": {"field": "s", "type": "nominal", "scale": {"domain": ["α = 0"], "range": ["#ff2020"]}, "legend": {"title": null}}}},
     {"data": {"values": [{}]}, "mark": {"type": "text", "fontSize": 14}, "encoding": {"x": {"datum": 0.083}, "y": {"datum": 0.89}, "text": {"value": "(e)"}}}
    ]},
   {"width": 253, "height": 146, "data": {"name": "g"},
    "layer": [
     {"mark": {"type": "line", "strokeWidth": 0.8, "strokeOpacity": 0.7, "point": {"filled": true, "size": 5, "shape": "square", "opacity": 1}},
      "encoding": {"x": {"field": "p", "type": "quantitative", "scale": {"domain": [0, 1], "nice": false}, "axis": {"values": [0, 0.2, 0.4, 0.6, 0.8, 1], "format": "~g", "title": null, "tickCount": 12}},
       "y": {"field": "D", "type": "quantitative", "scale": {"domain": [0, 0.1], "nice": false}, "axis": {"values": [0, 0.02, 0.04, 0.06, 0.08, 0.1], "format": "~g", "title": null, "tickCount": 12}},
       "color": {"field": "s", "type": "nominal", "scale": {"domain": ["α = 0"], "range": ["#2020ff"]}, "legend": {"title": null}}}},
     {"data": {"values": [{}]}, "mark": {"type": "text", "fontSize": 14}, "encoding": {"x": {"datum": 0.08}, "y": {"datum": 0.098}, "text": {"value": "(g)"}}}
    ]}
  ], "spacing": 11, "resolve": {"scale": {"color": "independent"}, "legend": {"color": "independent"}}},
  {"hconcat": [
   {"width": 253, "height": 146, "data": {"name": "f"},
    "layer": [
     {"mark": {"type": "line", "strokeWidth": 0.8, "strokeOpacity": 0.7, "point": {"filled": true, "size": 5, "shape": "square", "opacity": 1}},
      "encoding": {"x": {"field": "p", "type": "quantitative", "scale": {"domain": [0, 1], "nice": false}, "axis": {"values": [0, 0.2, 0.4, 0.6, 0.8, 1], "format": "~g", "title": null, "tickCount": 12}},
       "y": {"field": "D", "type": "quantitative", "scale": {"domain": [0, 1], "nice": false}, "axis": {"values": [0, 0.2, 0.4, 0.6, 0.8, 1], "format": "~g", "title": null, "tickCount": 12}},
       "color": {"field": "s", "type": "nominal", "scale": {"domain": ["α = -4", "α = 4"], "range": ["#ff2020", "#2020ff"]}, "legend": {"title": null}}}},
     {"data": {"values": [{}]}, "mark": {"type": "text", "fontSize": 14}, "encoding": {"x": {"datum": 0.083}, "y": {"datum": 0.89}, "text": {"value": "(f)"}}}
    ]},
   {"width": 253, "height": 146, "data": {"name": "h"},
    "layer": [
     {"mark": {"type": "line", "strokeWidth": 0.8, "strokeOpacity": 0.7, "point": {"filled": true, "size": 5, "shape": "square", "opacity": 1}},
      "encoding": {"x": {"field": "p", "type": "quantitative", "scale": {"domain": [0, 1], "nice": false}, "axis": {"values": [0, 0.2, 0.4, 0.6, 0.8, 1], "format": "~g", "title": null, "tickCount": 12}},
       "y": {"field": "D", "type": "quantitative", "scale": {"domain": [0, 0.2], "nice": false}, "axis": {"values": [0, 0.05, 0.1, 0.15, 0.2], "format": "~g", "title": null, "tickCount": 12}},
       "color": {"field": "s", "type": "nominal", "scale": {"domain": ["α = -4", "α = 4"], "range": ["#ff2020", "#2020ff"]}, "legend": {"title": null}}}},
     {"data": {"values": [{}]}, "mark": {"type": "text", "fontSize": 14}, "encoding": {"x": {"datum": 0.075}, "y": {"datum": 0.184}, "text": {"value": "(h)"}}}
    ]}
  ], "spacing": 11, "title": {"text": "p", "orient": "bottom", "fontSize": 26, "anchor": "middle", "offset": 3, "dx": 8}, "resolve": {"scale": {"color": "independent"}, "legend": {"color": "independent"}}}
 ]
}
]
}
